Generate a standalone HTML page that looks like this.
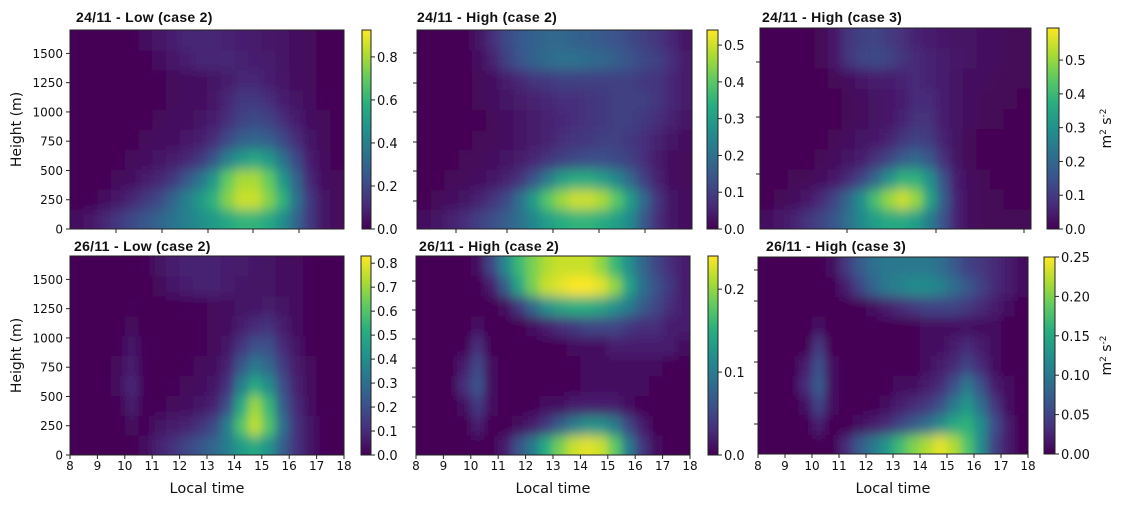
<!DOCTYPE html>
<html><head><meta charset="utf-8"><style>
body{margin:0;background:#fff;width:1123px;height:503px;overflow:hidden}
svg text{font-family:"DejaVu Sans","Liberation Sans",sans-serif;fill:#111}
.t{font-family:"Liberation Sans",sans-serif;font-weight:bold;font-size:14px;letter-spacing:0.3px}
</style></head><body>
<svg id="fig" width="1123" height="503" xmlns="http://www.w3.org/2000/svg">
<defs>
<filter id="bl" filterUnits="userSpaceOnUse" x="0" y="0" width="1123" height="503"><feGaussianBlur stdDeviation="4.5 6"/></filter>
</defs>
</svg>
<script>
const timeEdges=[8,8.5,9,9.5,10,10.5,11,11.5,12,12.5,13,13.5,14,14.5,15,15.5,16,16.5,17,17.5,18];
const heightEdges=[0,170,340,510,680,850,1020,1190,1360,1530,1700];
const xTickLabels=["8","9","10","11","12","13","14","15","16","17","18"];
const yTickLabels=["0","250","500","750","1000","1250","1500"];
const titles=["24/11 - Low (case 2)","24/11 - High (case 2)","24/11 - High (case 3)","26/11 - Low (case 2)","26/11 - High (case 2)","26/11 - High (case 3)"];
const vmaxes=[0.925,0.541,0.595,0.83,0.24,0.25];
const cbTicks1=["0.0","0.2","0.4","0.6","0.8"];
const cbTicks2=["0.0","0.1","0.2","0.3","0.4","0.5"];
const cbTicks3=["0.0","0.1","0.2","0.3","0.4","0.5"];
const cbTicks4=["0.0","0.1","0.2","0.3","0.4","0.5","0.6","0.7","0.8"];
const cbTicks5=["0.0","0.1","0.2"];
const cbTicks6=["0.00","0.05","0.10","0.15","0.20","0.25"];
const p1Values=[
[0.03,0.06,0.1,0.15,0.2,0.25,0.3,0.35,0.4,0.45,0.5,0.55,0.6,0.6,0.55,0.45,0.3,0.15,0.05,0.02],
[0,0.01,0.03,0.06,0.1,0.15,0.2,0.3,0.4,0.5,0.6,0.75,0.85,0.85,0.75,0.6,0.35,0.15,0.05,0.02],
[0,0,0.01,0.02,0.04,0.07,0.1,0.15,0.25,0.35,0.5,0.7,0.8,0.8,0.7,0.5,0.3,0.1,0.04,0.02],
[0,0,0,0.01,0.02,0.03,0.05,0.07,0.1,0.15,0.25,0.4,0.5,0.55,0.5,0.35,0.2,0.08,0.03,0.01],
[0,0,0,0,0.01,0.02,0.03,0.04,0.06,0.08,0.12,0.2,0.28,0.3,0.28,0.2,0.12,0.05,0.02,0.01],
[0,0,0,0,0,0.01,0.02,0.03,0.04,0.05,0.08,0.12,0.18,0.2,0.18,0.12,0.08,0.04,0.02,0.01],
[0,0,0,0,0,0,0.01,0.02,0.03,0.04,0.06,0.1,0.15,0.15,0.12,0.08,0.05,0.03,0.01,0],
[0,0,0,0,0,0,0.01,0.02,0.03,0.04,0.05,0.07,0.1,0.1,0.08,0.06,0.04,0.02,0.01,0],
[0,0,0,0,0,0.01,0.03,0.06,0.08,0.1,0.1,0.1,0.09,0.08,0.07,0.05,0.03,0.02,0.01,0],
[0,0,0,0,0.01,0.03,0.06,0.08,0.1,0.1,0.1,0.09,0.08,0.07,0.06,0.05,0.03,0.02,0.01,0]];
const p2Values=[
[0.02,0.03,0.05,0.07,0.1,0.13,0.16,0.2,0.25,0.3,0.33,0.35,0.35,0.33,0.3,0.25,0.15,0.07,0.03,0.02],
[0,0.01,0.02,0.03,0.05,0.08,0.12,0.2,0.3,0.4,0.46,0.5,0.5,0.47,0.4,0.3,0.18,0.08,0.03,0.02],
[0,0,0.01,0.01,0.02,0.03,0.05,0.08,0.14,0.22,0.3,0.33,0.33,0.3,0.25,0.18,0.1,0.05,0.02,0.01],
[0,0,0,0.01,0.01,0.02,0.03,0.04,0.06,0.08,0.1,0.12,0.13,0.13,0.12,0.1,0.07,0.04,0.02,0.01],
[0,0,0,0,0.01,0.01,0.02,0.03,0.04,0.05,0.07,0.08,0.09,0.1,0.1,0.09,0.07,0.05,0.03,0.02],
[0,0,0,0,0,0.01,0.02,0.03,0.04,0.05,0.06,0.07,0.08,0.09,0.1,0.1,0.09,0.07,0.05,0.03],
[0,0,0,0,0.01,0.02,0.03,0.04,0.05,0.06,0.07,0.07,0.08,0.09,0.1,0.1,0.1,0.08,0.06,0.04],
[0,0,0,0,0.01,0.02,0.04,0.06,0.08,0.09,0.1,0.1,0.1,0.1,0.1,0.1,0.09,0.08,0.06,0.04],
[0,0,0,0,0.02,0.05,0.1,0.14,0.17,0.19,0.2,0.2,0.19,0.18,0.16,0.14,0.12,0.1,0.07,0.04],
[0,0,0,0,0.03,0.07,0.12,0.15,0.17,0.18,0.18,0.17,0.16,0.15,0.14,0.12,0.1,0.08,0.06,0.03]];
const p3Values=[
[0.02,0.04,0.06,0.09,0.12,0.16,0.22,0.28,0.33,0.36,0.36,0.33,0.25,0.15,0.06,0.02,0.01,0.01,0.01,0.01],
[0,0.01,0.02,0.04,0.07,0.12,0.2,0.3,0.42,0.5,0.55,0.5,0.35,0.18,0.06,0.02,0.01,0.01,0,0],
[0,0,0.01,0.01,0.02,0.04,0.07,0.12,0.2,0.3,0.38,0.38,0.3,0.15,0.05,0.02,0.01,0,0,0],
[0,0,0,0,0.01,0.02,0.03,0.05,0.08,0.12,0.17,0.2,0.16,0.08,0.03,0.01,0,0,0,0],
[0,0,0,0,0,0.01,0.02,0.03,0.04,0.06,0.09,0.11,0.1,0.06,0.03,0.01,0,0,0,0],
[0,0,0,0,0,0,0.01,0.02,0.03,0.04,0.06,0.08,0.08,0.05,0.03,0.02,0.01,0.01,0,0],
[0,0,0,0,0,0,0.01,0.02,0.03,0.04,0.05,0.07,0.07,0.05,0.03,0.02,0.01,0.01,0.01,0],
[0,0,0,0,0,0.01,0.02,0.04,0.05,0.05,0.06,0.07,0.06,0.05,0.03,0.02,0.02,0.01,0.01,0.01],
[0,0,0,0,0.01,0.04,0.09,0.12,0.13,0.12,0.09,0.07,0.06,0.05,0.04,0.03,0.02,0.02,0.01,0.01],
[0,0,0,0,0.01,0.04,0.09,0.11,0.12,0.1,0.08,0.06,0.05,0.04,0.03,0.03,0.02,0.02,0.01,0.01]];
const p4Values=[
[0,0,0,0,0,0.03,0.08,0.12,0.17,0.22,0.28,0.35,0.45,0.5,0.42,0.25,0.12,0.05,0.01,0],
[0,0,0,0,0.02,0.01,0.04,0.06,0.08,0.12,0.18,0.35,0.6,0.75,0.6,0.3,0.12,0.04,0.01,0],
[0,0,0,0.01,0.06,0.01,0.01,0.02,0.03,0.05,0.08,0.2,0.5,0.7,0.55,0.25,0.1,0.03,0,0],
[0,0,0,0.03,0.09,0.01,0,0.01,0.02,0.03,0.05,0.12,0.35,0.5,0.4,0.2,0.08,0.02,0,0],
[0,0,0,0.02,0.07,0.01,0,0,0.01,0.02,0.03,0.08,0.22,0.33,0.28,0.15,0.06,0.02,0,0],
[0,0,0,0.01,0.05,0.01,0,0,0,0.01,0.02,0.05,0.13,0.2,0.2,0.1,0.04,0.01,0,0],
[0,0,0,0,0.02,0,0,0,0,0.01,0.02,0.03,0.07,0.1,0.12,0.07,0.03,0.01,0,0],
[0,0,0,0,0.01,0,0,0,0.01,0.01,0.02,0.03,0.04,0.05,0.06,0.04,0.02,0.01,0,0],
[0,0,0,0,0,0,0.02,0.05,0.07,0.08,0.08,0.07,0.05,0.04,0.04,0.03,0.02,0.01,0,0],
[0,0,0,0,0,0.01,0.04,0.07,0.08,0.08,0.08,0.07,0.06,0.05,0.04,0.03,0.02,0.01,0,0]];
const p5Values=[
[0,0,0,0,0,0,0.02,0.06,0.1,0.15,0.19,0.22,0.23,0.22,0.18,0.1,0.04,0.01,0,0],
[0,0,0,0,0.02,0,0,0.01,0.02,0.04,0.07,0.1,0.12,0.12,0.1,0.05,0.02,0,0,0],
[0,0,0,0.01,0.04,0.01,0,0,0,0.01,0.01,0.02,0.02,0.02,0.02,0.01,0,0,0,0],
[0,0,0,0.03,0.06,0.01,0,0,0,0,0,0,0.01,0.01,0.01,0.01,0.01,0,0,0],
[0,0,0,0.02,0.05,0.01,0,0,0,0,0,0,0.01,0.01,0.01,0.01,0.01,0.01,0,0],
[0,0,0,0,0.03,0,0,0,0,0,0,0.01,0.01,0.01,0.02,0.02,0.02,0.02,0.02,0.01],
[0,0,0,0,0.01,0,0,0,0.01,0.02,0.03,0.04,0.05,0.05,0.05,0.04,0.03,0.03,0.02,0.02],
[0,0,0,0,0,0,0.01,0.04,0.08,0.12,0.14,0.15,0.15,0.14,0.12,0.1,0.07,0.05,0.03,0.02],
[0,0,0,0,0,0.02,0.07,0.14,0.19,0.22,0.23,0.24,0.24,0.23,0.2,0.14,0.09,0.06,0.04,0.02],
[0,0,0,0,0.01,0.05,0.11,0.16,0.19,0.21,0.22,0.22,0.22,0.2,0.16,0.12,0.08,0.05,0.03,0.02]];
const p6Values=[
[0,0,0,0,0,0,0.03,0.07,0.1,0.13,0.17,0.2,0.22,0.24,0.22,0.18,0.12,0.05,0.02,0],
[0,0,0,0,0.02,0,0,0.01,0.02,0.03,0.05,0.07,0.09,0.12,0.15,0.16,0.12,0.06,0.02,0],
[0,0,0,0.01,0.05,0.01,0,0,0,0.01,0.02,0.03,0.04,0.06,0.1,0.13,0.09,0.04,0.01,0],
[0,0,0,0.03,0.07,0.01,0,0,0,0,0.01,0.01,0.02,0.03,0.06,0.1,0.06,0.02,0.01,0],
[0,0,0,0.02,0.06,0.01,0,0,0,0,0,0,0.01,0.02,0.03,0.05,0.03,0.01,0,0],
[0,0,0,0,0.04,0,0,0,0,0,0,0,0.01,0.01,0.02,0.03,0.02,0.01,0,0],
[0,0,0,0,0.01,0,0,0,0,0,0,0,0.01,0.01,0.01,0.01,0.01,0.01,0,0],
[0,0,0,0,0,0,0,0,0.01,0.02,0.03,0.04,0.05,0.05,0.05,0.04,0.03,0.02,0.01,0],
[0,0,0,0,0,0,0.02,0.05,0.08,0.1,0.11,0.12,0.12,0.11,0.09,0.07,0.05,0.03,0.02,0.01],
[0,0,0,0,0,0.01,0.04,0.07,0.09,0.1,0.1,0.1,0.1,0.09,0.07,0.05,0.04,0.03,0.02,0.01]];
const allValues=[p1Values,p2Values,p3Values,p4Values,p5Values,p6Values];
const allCbTicks=[cbTicks1,cbTicks2,cbTicks3,cbTicks4,cbTicks5,cbTicks6];

const layout=[
{x0:70,x1:344,y0:30,y1:229,cb0:362,cb1:371,tx:76,ty:22,xt:[116,162,208,253,299],yt:null},
{x0:417,x1:692,y0:30,y1:229,cb0:707,cb1:718,tx:417,ty:22,xt:[456,507,553,599,645],yt:[53,83,112,142,171,201]},
{x0:760,x1:1031,y0:28,y1:229,cb0:1047,cb1:1059,tx:762,ty:22,xt:[847,936,1024],yt:[62,117,174]},
{x0:70,x1:344,y0:256,y1:455,cb0:361,cb1:371,tx:74,ty:251,xt:null,yt:null},
{x0:416,x1:690,y0:256,y1:455,cb0:708,cb1:718,tx:419,ty:251,xt:null,yt:[281,310,339,368,397,427]},
{x0:758,x1:1028,y0:257,y1:454,cb0:1044,cb1:1055,tx:766,ty:251,xt:null,yt:[270,301,331,362,393,424]}];
const vstops=["#440154","#472d7b","#3b528b","#2c728e","#21918c","#28ae80","#5ec962","#addc30","#fde725"];
function hex(h){return [1,3,5].map(i=>parseInt(h.substr(i,2),16));}
function viridis(t){t=Math.max(0,Math.min(1,t));const f=t*8,i=Math.min(7,Math.floor(f)),u=f-i;const a=hex(vstops[i]),b=hex(vstops[i+1]);return 'rgb('+a.map((v,k)=>Math.round(v+(b[k]-v)*u)).join(',')+')';}
const NS="http://www.w3.org/2000/svg";
const svg=document.getElementById('fig');
function mk(tag,attrs,parent){const e=document.createElementNS(NS,tag);for(const k in attrs)e.setAttribute(k,attrs[k]);(parent||svg).appendChild(e);return e;}
function txt(s,attrs,parent){const e=mk('text',attrs,parent);e.textContent=s;return e;}
const defs=svg.querySelector('defs');
const grad=mk('linearGradient',{id:'vg',x1:0,y1:1,x2:0,y2:0},defs);
vstops.forEach((c,i)=>mk('stop',{offset:(i/8),'stop-color':c},grad));

layout.forEach((L,p)=>{
  const vals=allValues[p],vmax=vmaxes[p];
  const g=mk('g',{});
  
  
  const xs=t=>L.x0+(t-8)/10*(L.x1-L.x0);
  const ys=h=>L.y1-h/1700*(L.y1-L.y0);
  const cp=mk('clipPath',{id:'cp'+p},defs);
  mk('rect',{x:L.x0,y:L.y0,width:L.x1-L.x0,height:L.y1-L.y0},cp);
  const hg=mk('g',{'clip-path':'url(#cp'+p+')'},g);
  
  
  mk('rect',{x:L.x0,y:L.y0,width:L.x1-L.x0,height:L.y1-L.y0,fill:vstops[0]},hg);
  const bg=mk('g',{filter:'url(#bl)'},hg);
  const nr=vals.length,nc=vals[0].length;
  for(let r=0;r<nr;r++)for(let c=0;c<nc;c++){
    let xa=xs(timeEdges[c]),xb=xs(timeEdges[c+1]),ya=ys(heightEdges[r+1]),yb=ys(heightEdges[r]);
    if(c===0)xa-=25; if(c===nc-1)xb+=25; if(r===0)yb+=25; if(r===nr-1)ya-=25;
    const cell=mk('rect',{x:xa,y:ya,width:xb-xa+0.6,height:yb-ya+0.6,fill:viridis(vals[r][c]/vmax)},bg);
    
    
  }
  mk('rect',{x:L.x0,y:L.y0,width:L.x1-L.x0,height:L.y1-L.y0,fill:'none',stroke:'#222','stroke-width':1},g);
  const tt=txt(titles[p],{x:L.tx,y:L.ty,class:'t'},g);
  
  
  if(p===0||p===3){
    yTickLabels.forEach(s=>{const h=+s,y=ys(h);mk('line',{x1:L.x0-4,x2:L.x0,y1:y,y2:y,stroke:'#222'},g);
      const e=txt(s,{x:L.x0-7,y:y+4.5,'text-anchor':'end','font-size':12},g);
      
      });
    const yl=txt('Height (m)',{x:0,y:0,'text-anchor':'middle','font-size':14,transform:'translate(21,'+((L.y0+L.y1)/2)+') rotate(-90)'},g);
    
    
  } else if(L.yt){L.yt.forEach(y=>mk('line',{x1:L.x0-4,x2:L.x0,y1:y,y2:y,stroke:'#222'},g));}
  if(p>=3){
    xTickLabels.forEach(s=>{const x=xs(+s);mk('line',{x1:x,x2:x,y1:L.y1,y2:L.y1+4,stroke:'#222'},g);
      const e=txt(s,{x:x,y:470,'text-anchor':'middle','font-size':12},g);
      
      });
    const xl=txt('Local time',{x:(L.x0+L.x1)/2,y:493,'text-anchor':'middle','font-size':14.5},g);
    
    
  } else if(L.xt){L.xt.forEach(x=>mk('line',{x1:x,x2:x,y1:L.y1,y2:L.y1+4,stroke:'#222'},g));}
  const cb=mk('g',{},g);
  
  
  mk('rect',{x:L.cb0,y:L.y0,width:L.cb1-L.cb0,height:L.y1-L.y0,fill:'url(#vg)',stroke:'#222','stroke-width':1},cb);
  allCbTicks[p].forEach(s=>{const v=+s,y=L.y1-v/vmax*(L.y1-L.y0);
    mk('line',{x1:L.cb1,x2:L.cb1+4,y1:y,y2:y,stroke:'#222'},cb);
    const e=txt(s,{x:L.cb1+6,y:y+5,'font-size':13},cb);
    
    });
  if(p===2||p===5){
    const u=mk('text',{x:0,y:0,'text-anchor':'middle','font-size':14,transform:'translate(1111,'+((L.y0+L.y1)/2)+') rotate(-90)'},cb);
    
    
    u.innerHTML='m<tspan dy="-5" font-size="9">2</tspan><tspan dy="5"> s</tspan><tspan dy="-5" font-size="9">-2</tspan>';
  }
});
</script>
</body></html>
